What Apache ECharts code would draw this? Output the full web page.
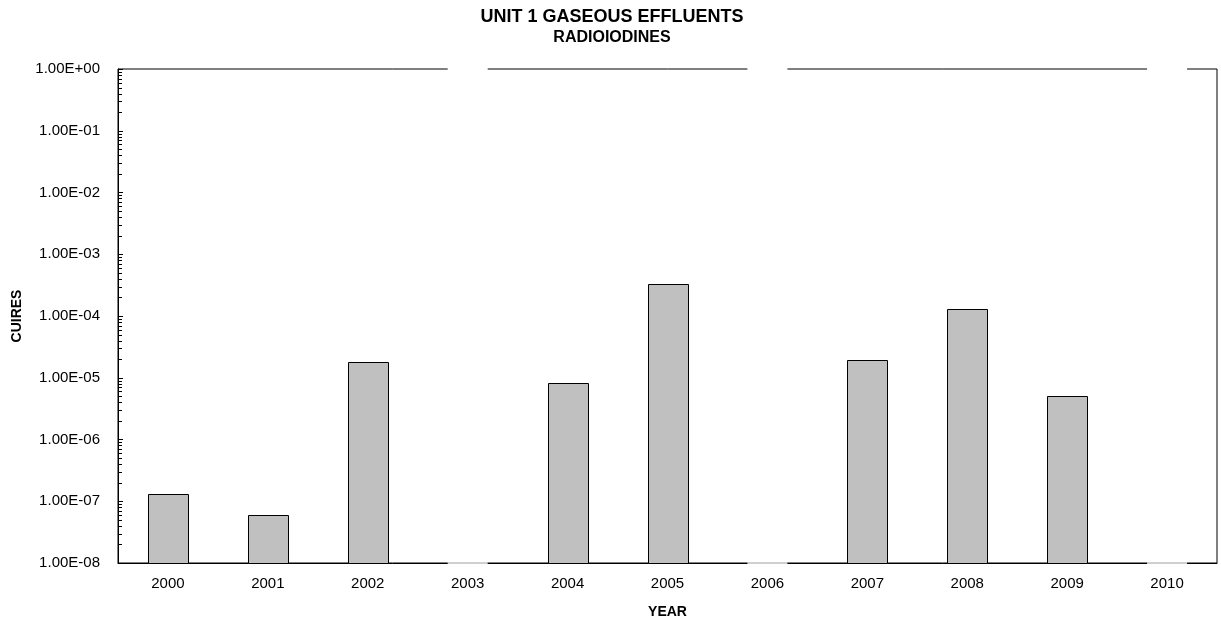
<!DOCTYPE html>
<html>
<head>
<meta charset="utf-8">
<script src="https://cdn.jsdelivr.net/npm/echarts@6/dist/echarts.min.js"></script>
<style>
  html, body { margin: 0; padding: 0; background: #fff; }
  #chart { width: 1221px; height: 624px; }
</style>
</head>
<body>
<div id="chart"></div>
<script>
const years = ["2000", "2001", "2002", "2003", "2004", "2005", "2006", "2007", "2008", "2009", "2010"];
// curies released per year (null = no reported value)
const curies = [1.33e-7, 5.9e-8, 1.83e-5, null, 8.3e-6, 3.26e-4, null, 1.97e-5, 1.30e-4, 5.14e-6, null];
const yMin = 1e-8;
const yMax = 1;

function sciLabel(v) {
    const [m, e] = v.toExponential(2).split("e");
    const n = parseInt(e);
    const sign = n < 0 ? "-" : "+";
    return m + "E" + sign + String(Math.abs(n)).padStart(2, "0");
}

// log minor tick positions (2..9 in each decade)
const minorTicks = [];
for (let k = Math.log10(yMin); k < Math.log10(yMax); k++) {
    for (let m = 2; m <= 9; m++) minorTicks.push([0, m * Math.pow(10, k)]);
}

const barData = curies.map((v, i) => [i, v === null ? yMin : v]);
// years without a value show a break in the frame
const emptyYears = curies.map((v, i) => (v === null ? i : null)).filter((i) => i !== null);

const font = "'Liberation Sans', Arial, sans-serif";
const barWidth = 40;

const chart = echarts.init(document.getElementById("chart"));
chart.setOption({
    animation: false,
    title: {
        text: "UNIT 1 GASEOUS EFFLUENTS",
        subtext: "RADIOIODINES",
        left: 607,
        textAlign: "center",
        top: 3,
        itemGap: 4,
        textStyle: { fontFamily: font, fontSize: 18, fontWeight: "bold", color: "#000" },
        subtextStyle: { fontFamily: font, fontSize: 16, fontWeight: "bold", color: "#000" },
    },
    grid: {
        left: 118,
        right: 4,
        top: 69,
        bottom: 61,
        show: true,
        borderColor: "#000",
        borderWidth: 1,
    },
    xAxis: {
        type: "category",
        data: years,
        name: "YEAR",
        nameLocation: "middle",
        nameGap: 42,
        nameTextStyle: { fontFamily: font, fontSize: 14, fontWeight: "bold", color: "#000" },
        axisLine: { lineStyle: { color: "#000", width: 1 } },
        axisTick: { show: false },
        axisLabel: { fontFamily: font, fontSize: 15, color: "#000", margin: 13 },
    },
    yAxis: {
        type: "log",
        logBase: 10,
        min: yMin,
        max: yMax,
        name: "CUIRES",
        nameLocation: "middle",
        nameGap: 92,
        nameTextStyle: { fontFamily: font, fontSize: 14, fontWeight: "bold", color: "#000" },
        axisLine: { show: true, lineStyle: { color: "#000", width: 1 } },
        axisTick: { show: true, inside: true, length: 5, lineStyle: { color: "#000" } },
        splitLine: { show: false },
        axisLabel: { fontFamily: font, fontSize: 15, color: "#000", margin: 18, formatter: sciLabel },
    },
    series: [
        {
            type: "custom",
            data: barData,
            encode: { x: 0, y: 1 },
            z: 3,
            renderItem: (params, api) => {
                const v = curies[params.dataIndex];
                if (v === null) return null;
                const i = params.dataIndex;
                const top = api.coord([i, v]);
                const base = api.coord([i, yMin]);
                return {
                    type: "rect",
                    shape: { x: Math.round(top[0] - barWidth / 2) + 0.5, y: Math.round(top[1]) + 0.5, width: barWidth, height: Math.round(base[1] - top[1]) },
                    style: { fill: "#c0c0c0", stroke: "#000", lineWidth: 1 },
                };
            },
        },
        {
            type: "custom",
            data: minorTicks,
            encode: { x: 0, y: 1 },
            silent: true,
            renderItem: (params, api) => {
                const x0 = params.coordSys.x;
                const y = Math.round(api.coord([0, minorTicks[params.dataIndex][1]])[1]) + 0.5;
                return {
                    type: "line",
                    shape: { x1: x0, y1: y, x2: x0 + 4, y2: y },
                    style: { stroke: "#000", lineWidth: 1 },
                };
            },
        },
        {
            type: "custom",
            data: emptyYears.map((i) => [i, yMax]),
            encode: { x: 0, y: 1 },
            silent: true,
            z: 5,
            renderItem: (params, api) => {
                const idx = emptyYears[params.dataIndex];
                const top = api.coord([idx, yMax]);
                const bottom = api.coord([idx, yMin]);
                const half = barWidth / 2;
                return {
                    type: "group",
                    children: [
                        {
                            type: "rect",
                            shape: { x: top[0] - half, y: top[1] - 2, width: barWidth, height: 4 },
                            style: { fill: "#fff" },
                        },
                        {
                            type: "rect",
                            shape: { x: bottom[0] - half, y: bottom[1] - 1, width: barWidth, height: 2 },
                            style: { fill: "#d0d0d0" },
                        },
                    ],
                };
            },
        },
    ],
});
</script>
</body>
</html>
